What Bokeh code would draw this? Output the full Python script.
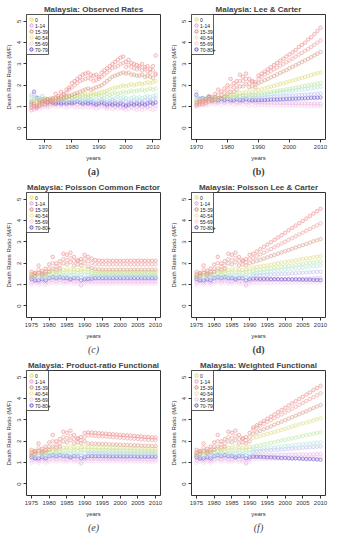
from bokeh.plotting import figure
from bokeh.layouts import gridplot
from bokeh.models import Title, FixedTicker, Range1d
from bokeh.embed import file_html
from bokeh.resources import INLINE
from bokeh.core.properties import value

# ---------------- data ----------------
years_a = list(range(1965, 2012))
years_b = list(range(1970, 2011))
years_cf = list(range(1975, 2011))

xticks_ab = [1970, 1980, 1990, 2000, 2010]
xticks_cf = [1975, 1980, 1985, 1990, 1995, 2000, 2005, 2010]
yticks = [0, 1, 2, 3, 4, 5]

# (a) observed rates 1965-2011
a_s1 = [1.10,1.15,1.05,1.20,1.25,1.30,1.35,1.30,1.40,1.60, 1.50,1.70,1.60,1.80,1.90,2.10,2.20,2.30,2.40,2.50,
        2.55,2.60,2.50,2.45,2.50,2.40,2.60,2.70,2.80,2.90, 3.00,3.10,3.20,3.30,3.35,3.10,3.20,3.05,3.00,2.95,
        2.90,3.00,2.85,2.90,2.75,2.90,3.40]
a_s2 = [1.00,1.05,1.00,1.10,1.15,1.20,1.25,1.30,1.25,1.40, 1.40,1.50,1.55,1.65,1.80,1.90,2.00,2.10,2.20,2.25,
        2.30,2.35,2.30,2.20,2.25,2.30,2.40,2.50,2.60,2.70, 2.80,2.85,2.90,3.00,3.05,2.85,2.95,2.85,2.80,2.75,
        2.80,2.70,2.75,2.65,2.60,2.70,2.55]
a_s3 = [0.95,1.00,0.95,1.05,1.10,1.10,1.15,1.20,1.15,1.25, 1.30,1.35,1.40,1.45,1.50,1.55,1.60,1.65,1.70,1.75,
        1.80,1.85,1.80,1.85,1.90,1.95,2.00,2.10,2.20,2.30, 2.40,2.45,2.50,2.55,2.60,2.55,2.60,2.50,2.50,2.45,
        2.45,2.50,2.40,2.45,2.40,2.35,2.50]
a_s4 = [1.20,1.25,1.20,1.25,1.30,1.30,1.35,1.30,1.35,1.40, 1.35,1.40,1.45,1.40,1.50,1.45,1.50,1.55,1.50,1.55,
        1.60,1.55,1.60,1.65,1.60,1.65,1.70,1.70,1.75,1.80, 1.85,1.90,1.90,1.95,2.00,1.95,2.00,2.05,2.00,2.05,
        2.10,2.05,2.10,2.15,2.10,2.15,2.20]
a_s5 = [1.30,1.35,1.30,1.35,1.30,1.40,1.35,1.40,1.35,1.40, 1.40,1.45,1.40,1.45,1.45,1.40,1.45,1.50,1.45,1.50,
        1.50,1.45,1.50,1.55,1.50,1.55,1.50,1.55,1.60,1.55, 1.60,1.65,1.60,1.65,1.70,1.65,1.70,1.75,1.70,1.75,
        1.75,1.80,1.75,1.80,1.85,1.80,1.85]
a_s6 = [1.45,1.40,1.35,1.40,1.35,1.30,1.35,1.30,1.35,1.30, 1.35,1.30,1.35,1.30,1.35,1.40,1.35,1.40,1.35,1.30,
        1.35,1.40,1.35,1.30,1.35,1.30,1.35,1.40,1.35,1.40, 1.35,1.40,1.45,1.40,1.45,1.40,1.35,1.40,1.45,1.40,
        1.45,1.40,1.45,1.50,1.45,1.50,1.55]
a_s7 = [1.55,1.60,1.45,1.40,1.50,1.35,1.30,1.35,1.30,1.25, 1.30,1.25,1.30,1.25,1.30,1.25,1.30,1.25,1.30,1.25,
        1.30,1.25,1.30,1.25,1.20,1.25,1.30,1.25,1.20,1.25, 1.30,1.25,1.20,1.25,1.30,1.25,1.20,1.25,1.30,1.25,
        1.30,1.25,1.30,1.35,1.30,1.35,1.40]
a_s8 = [1.20,1.70,1.40,1.30,1.35,1.25,1.20,1.25,1.20,1.15, 1.20,1.15,1.20,1.15,1.20,1.15,1.20,1.25,1.20,1.15,
        1.20,1.15,1.20,1.15,1.10,1.15,1.20,1.15,1.10,1.15, 1.10,1.15,1.10,1.15,1.10,1.05,1.10,1.15,1.10,1.15,
        1.10,1.15,1.10,1.15,1.20,1.15,1.20]
a_s9 = [0.85,0.90,0.95,1.00,1.05,1.10,1.05,1.10,1.15,1.10, 1.15,1.10,1.15,1.10,1.15,1.20,1.15,1.10,1.15,1.10,
        1.10,1.15,1.10,1.05,1.10,1.05,1.10,1.05,1.00,1.05, 1.05,1.00,1.05,1.00,0.95,1.00,1.05,1.00,1.05,1.00,
        1.05,1.00,1.05,1.00,1.05,1.10,1.05]
a_s10 = [0.80,0.85,0.90,0.90,0.95,1.00,0.95,1.00,1.05,1.00, 1.00,1.05,1.00,0.95,1.00,1.05,1.00,0.95,1.00,0.95,
         1.00,0.95,1.00,0.95,0.90,0.95,1.00,0.95,0.90,0.95, 0.90,0.95,0.90,0.95,0.90,0.85,0.90,0.95,0.90,0.85,
         0.90,0.85,0.90,0.95,0.90,0.85,0.90]

# (b) Lee & Carter 1970-2010
b_s1 = [1.20,1.25,1.30,1.35,1.50,1.45,1.60,1.80,1.70,1.85, 2.00,2.30,2.10,2.20,2.50,2.40,2.55,2.30,2.20,2.15,
        2.45,2.55,2.65,2.75,2.85,2.95,3.05,3.15,3.25,3.35, 3.45,3.55,3.65,3.80,3.90,4.00,4.15,4.25,4.40,4.55,4.70]
b_s2 = [1.10,1.15,1.20,1.25,1.35,1.35,1.45,1.55,1.55,1.65, 1.80,1.95,1.90,2.00,2.20,2.20,2.30,2.10,2.15,2.05,
        2.30,2.40,2.50,2.58,2.66,2.75,2.83,2.92,3.00,3.08, 3.17,3.25,3.35,3.44,3.52,3.62,3.70,3.80,3.90,4.00,4.10]
b_s3 = [1.05,1.10,1.10,1.15,1.25,1.25,1.30,1.40,1.40,1.45, 1.60,1.70,1.70,1.80,1.95,1.95,2.05,1.90,1.95,1.90,
        2.10,2.17,2.24,2.30,2.37,2.44,2.51,2.58,2.65,2.72, 2.80,2.87,2.94,3.02,3.09,3.17,3.24,3.32,3.40,3.48,3.56]
b_s4 = [1.20,1.20,1.25,1.25,1.30,1.30,1.35,1.40,1.40,1.45, 1.50,1.55,1.55,1.60,1.65,1.65,1.70,1.65,1.70,1.70,
        1.78,1.82,1.86,1.90,1.94,1.98,2.02,2.06,2.10,2.14, 2.18,2.22,2.26,2.31,2.35,2.39,2.43,2.48,2.52,2.56,2.60]
b_s5 = [1.30,1.30,1.35,1.30,1.35,1.40,1.35,1.40,1.40,1.45, 1.45,1.50,1.45,1.50,1.50,1.55,1.50,1.55,1.55,1.55,
        1.60,1.62,1.64,1.67,1.69,1.72,1.74,1.77,1.79,1.82, 1.84,1.87,1.89,1.92,1.95,1.97,2.00,2.03,2.05,2.08,2.11]
b_s6 = [1.35,1.30,1.35,1.40,1.35,1.40,1.40,1.35,1.40,1.45, 1.40,1.45,1.45,1.50,1.45,1.50,1.50,1.45,1.50,1.50,
        1.52,1.54,1.56,1.58,1.60,1.62,1.64,1.66,1.68,1.70, 1.72,1.74,1.76,1.78,1.80,1.82,1.84,1.86,1.88,1.90,1.93]
b_s7 = [1.45,1.40,1.40,1.35,1.40,1.35,1.40,1.35,1.40,1.35, 1.40,1.35,1.40,1.40,1.35,1.40,1.40,1.35,1.40,1.40,
        1.41,1.42,1.43,1.44,1.45,1.46,1.47,1.48,1.49,1.50, 1.51,1.52,1.53,1.54,1.55,1.56,1.57,1.58,1.59,1.60,1.62]
b_s8 = [1.55,1.35,1.40,1.35,1.45,1.30,1.35,1.30,1.35,1.30, 1.35,1.30,1.30,1.35,1.30,1.30,1.35,1.30,1.30,1.30,
        1.30,1.31,1.31,1.32,1.33,1.33,1.34,1.34,1.35,1.36, 1.36,1.37,1.37,1.38,1.39,1.39,1.40,1.41,1.41,1.42,1.43]
b_s9 = [1.70,1.25,1.20,1.25,1.20,1.25,1.20,1.20,1.25,1.20, 1.25,1.20,1.25,1.20,1.20,1.25,1.20,1.20,1.25,1.20,
        1.20,1.20,1.19,1.19,1.19,1.18,1.18,1.18,1.17,1.17, 1.17,1.17,1.16,1.16,1.16,1.15,1.15,1.15,1.15,1.14,1.14]
b_s10 = [1.00,1.05,1.10,1.05,1.10,1.15,1.10,1.15,1.10,1.15, 1.10,1.15,1.10,1.10,1.15,1.10,1.10,1.05,1.10,1.05,
         1.08,1.08,1.07,1.07,1.07,1.07,1.06,1.06,1.06,1.06, 1.05,1.05,1.05,1.05,1.04,1.04,1.04,1.04,1.03,1.03,1.03]

# fitted years 1975-1990 (c)-(f)
early_s1 = [1.60,1.55,1.90,1.65,1.75,1.95,2.30,2.00,2.10,2.45,2.40,2.50,2.30,2.15,2.20,2.40]
early_s2 = [1.45,1.50,1.70,1.55,1.60,1.75,2.00,1.85,1.90,2.20,2.15,2.25,2.10,2.10,2.05,2.20]
early_s3 = [1.35,1.40,1.55,1.45,1.50,1.60,1.75,1.70,1.75,2.00,1.95,2.05,1.90,1.95,1.90,2.00]
early_s4 = [1.50,1.55,1.55,1.50,1.60,1.60,1.65,1.60,1.65,1.70,1.70,1.75,1.70,1.70,1.70,1.75]
early_s5 = [1.40,1.45,1.45,1.50,1.45,1.50,1.55,1.50,1.55,1.55,1.60,1.55,1.60,1.55,1.60,1.60]
early_s6 = [1.35,1.40,1.35,1.40,1.40,1.35,1.40,1.45,1.40,1.45,1.40,1.45,1.45,1.40,1.45,1.45]
early_s7 = [1.30,1.25,1.35,1.30,1.30,1.35,1.30,1.35,1.30,1.35,1.35,1.30,1.35,1.30,1.35,1.30]
early_s8 = [1.25,1.20,1.20,1.25,1.20,1.30,1.35,1.30,1.35,1.30,1.30,1.25,1.30,1.30,1.20,1.25]
early_s9 = [1.10,1.15,1.10,1.15,1.10,1.15,1.20,1.15,1.20,1.15,1.15,1.20,1.15,1.15,1.00,1.15]
early_s10 = [1.00,1.05,1.00,1.05,1.00,1.05,1.10,1.05,1.10,1.05,1.05,1.10,1.05,1.05,0.95,1.05]

# forecasts 1991-2010
c_t1 = [2.30,2.22,2.15,2.13,2.12,2.12,2.12,2.12,2.12,2.12,2.12,2.12,2.12,2.12,2.12,2.12,2.12,2.12,2.12,2.12]
c_t2 = [2.10,2.02,1.97,1.95,1.95,1.95,1.95,1.95,1.95,1.95,1.95,1.95,1.95,1.95,1.95,1.95,1.95,1.95,1.95,1.95]
c_t3 = [1.85,1.78,1.73,1.71,1.70,1.70,1.70,1.70,1.70,1.70,1.70,1.70,1.70,1.70,1.70,1.70,1.70,1.70,1.70,1.70]
c_t4 = [1.72,1.66,1.62,1.60,1.60,1.60,1.60,1.60,1.60,1.60,1.60,1.60,1.60,1.60,1.60,1.60,1.60,1.60,1.60,1.60]
c_t5 = [1.60,1.55,1.52,1.50,1.50,1.50,1.50,1.50,1.50,1.50,1.50,1.50,1.50,1.50,1.50,1.50,1.50,1.50,1.50,1.50]
c_t6 = [1.46,1.44,1.42,1.42,1.42,1.42,1.42,1.42,1.42,1.42,1.42,1.42,1.42,1.42,1.42,1.42,1.42,1.42,1.42,1.42]
c_t7 = [1.34,1.36,1.37,1.38,1.38,1.38,1.38,1.38,1.38,1.38,1.38,1.38,1.38,1.38,1.38,1.38,1.38,1.38,1.38,1.38]
c_t8 = [1.26,1.28,1.30,1.30,1.30,1.30,1.30,1.30,1.30,1.30,1.30,1.30,1.30,1.30,1.30,1.30,1.30,1.30,1.30,1.30]
c_t9 = [1.16,1.15,1.15,1.15,1.15,1.15,1.15,1.15,1.15,1.15,1.15,1.15,1.15,1.15,1.15,1.15,1.15,1.15,1.15,1.15]
c_t10 = [1.06,1.05,1.05,1.05,1.05,1.05,1.05,1.05,1.05,1.05,1.05,1.05,1.05,1.05,1.05,1.05,1.05,1.05,1.05,1.05]

d_t1 = [2.45,2.55,2.66,2.77,2.88,2.99,3.10,3.21,3.32,3.43,3.55,3.66,3.77,3.88,3.99,4.10,4.22,4.33,4.44,4.56]
d_t2 = [2.25,2.33,2.42,2.50,2.59,2.67,2.76,2.84,2.93,3.01,3.10,3.18,3.27,3.36,3.44,3.53,3.61,3.70,3.78,3.87]
d_t3 = [2.05,2.11,2.16,2.22,2.28,2.34,2.39,2.45,2.51,2.57,2.62,2.68,2.74,2.80,2.85,2.91,2.97,3.03,3.08,3.14]
d_t4 = [1.80,1.83,1.86,1.89,1.91,1.94,1.97,2.00,2.03,2.06,2.08,2.11,2.14,2.17,2.20,2.23,2.25,2.28,2.31,2.34]
d_t5 = [1.65,1.67,1.70,1.72,1.74,1.77,1.79,1.81,1.84,1.86,1.88,1.90,1.93,1.95,1.97,2.00,2.02,2.04,2.07,2.09]
d_t6 = [1.52,1.54,1.56,1.58,1.60,1.62,1.64,1.66,1.68,1.70,1.72,1.74,1.76,1.78,1.80,1.82,1.84,1.86,1.88,1.90]
d_t7 = [1.42,1.43,1.44,1.45,1.46,1.47,1.48,1.49,1.50,1.51,1.52,1.53,1.54,1.55,1.56,1.57,1.58,1.59,1.60,1.61]
d_t8 = [1.28,1.28,1.27,1.27,1.27,1.26,1.26,1.26,1.25,1.25,1.25,1.24,1.24,1.24,1.23,1.23,1.23,1.22,1.22,1.21]
d_t9 = [1.20,1.21,1.21,1.22,1.22,1.23,1.23,1.24,1.24,1.25,1.26,1.26,1.27,1.27,1.28,1.29,1.29,1.30,1.31,1.32]
d_t10 = [1.08,1.08,1.08,1.08,1.08,1.09,1.09,1.09,1.09,1.09,1.09,1.09,1.10,1.10,1.10,1.10,1.10,1.10,1.10,1.10]

e_t1 = [2.42,2.41,2.40,2.38,2.37,2.36,2.34,2.33,2.32,2.30,2.29,2.28,2.27,2.25,2.24,2.23,2.21,2.20,2.19,2.18]
e_t2 = [2.28,2.27,2.26,2.24,2.23,2.22,2.21,2.19,2.18,2.17,2.16,2.14,2.13,2.12,2.11,2.09,2.08,2.07,2.06,2.05]
e_t3 = [1.90,1.89,1.89,1.88,1.87,1.87,1.86,1.85,1.85,1.84,1.83,1.83,1.82,1.81,1.81,1.80,1.79,1.79,1.78,1.78]
e_t4 = [1.72,1.72,1.71,1.71,1.70,1.70,1.69,1.69,1.68,1.68,1.68,1.67,1.67,1.66,1.66,1.65,1.65,1.65,1.64,1.64]
e_t5 = [1.60,1.60,1.60,1.59,1.59,1.59,1.58,1.58,1.58,1.57,1.57,1.57,1.56,1.56,1.56,1.55,1.55,1.55,1.54,1.54]
e_t6 = [1.48,1.48,1.48,1.48,1.47,1.47,1.47,1.47,1.47,1.46,1.46,1.46,1.46,1.46,1.46,1.45,1.45,1.45,1.45,1.45]
e_t7 = [1.40,1.40,1.40,1.40,1.40,1.39,1.39,1.39,1.39,1.39,1.39,1.39,1.39,1.38,1.38,1.38,1.38,1.38,1.38,1.38]
e_t8 = [1.30,1.30,1.30,1.30,1.30,1.30,1.29,1.29,1.29,1.29,1.29,1.29,1.29,1.29,1.28,1.28,1.28,1.28,1.28,1.28]
e_t9 = [1.18,1.18,1.18,1.18,1.17,1.17,1.17,1.17,1.17,1.16,1.16,1.16,1.16,1.16,1.16,1.15,1.15,1.15,1.15,1.15]
e_t10 = [1.08,1.08,1.08,1.08,1.07,1.07,1.07,1.07,1.07,1.06,1.06,1.06,1.06,1.06,1.06,1.05,1.05,1.05,1.05,1.05]

f_t1 = [2.65,2.75,2.85,2.96,3.06,3.16,3.26,3.37,3.47,3.57,3.68,3.78,3.88,3.99,4.09,4.19,4.29,4.40,4.50,4.60]
f_t2 = [2.55,2.64,2.73,2.82,2.91,2.99,3.08,3.17,3.26,3.35,3.44,3.53,3.62,3.71,3.80,3.89,3.98,4.07,4.16,4.25]
f_t3 = [2.35,2.42,2.49,2.56,2.63,2.70,2.78,2.85,2.92,2.99,3.06,3.13,3.20,3.27,3.34,3.41,3.49,3.56,3.63,3.70]
f_t4 = [2.15,2.20,2.25,2.30,2.35,2.39,2.44,2.49,2.54,2.59,2.64,2.69,2.74,2.79,2.84,2.88,2.93,2.98,3.03,3.08]
f_t5 = [1.75,1.79,1.82,1.86,1.89,1.93,1.96,2.00,2.04,2.07,2.11,2.14,2.18,2.22,2.25,2.29,2.32,2.36,2.39,2.43]
f_t6 = [1.62,1.64,1.65,1.67,1.69,1.71,1.72,1.74,1.76,1.78,1.79,1.81,1.83,1.85,1.86,1.88,1.90,1.92,1.93,1.95]
f_t7 = [1.52,1.53,1.55,1.56,1.57,1.58,1.60,1.61,1.62,1.63,1.65,1.66,1.67,1.68,1.70,1.71,1.72,1.73,1.75,1.76]
f_t8 = [1.28,1.27,1.27,1.26,1.25,1.25,1.24,1.23,1.22,1.22,1.21,1.20,1.20,1.19,1.18,1.17,1.17,1.16,1.15,1.14]
f_t9 = [1.35,1.35,1.35,1.36,1.36,1.36,1.37,1.37,1.37,1.37,1.38,1.38,1.38,1.38,1.39,1.39,1.39,1.39,1.40,1.40]
f_t10 = [1.15,1.16,1.16,1.17,1.17,1.18,1.18,1.19,1.19,1.20,1.20,1.21,1.21,1.22,1.22,1.23,1.23,1.24,1.24,1.25]

legend_ab = ["0", "1-14", "15-39", "40-54", "55-69", "70-79"]
legend_plus = ["0", "1-14", "15-39", "40-54", "55-69", "70-80+"]

# ---------------- styles ----------------
series_colors = ["#EC8080", "#F09C9C", "#D49A84", "#DCDA80", "#BEE4A2",
                 "#B0E6E0", "#BCBCF2", "#6252CC", "#EAB0E6", "#F4CCEE"]
legend_colors = ["#D8D860", "#E090C8", "#C88468", "#E4E48A", "#F0C8D8", "#5040C8"]

SANS = "Liberation Sans"
SERIF = "Liberation Serif"
FW, FH = 134, 125
YR = (-0.54, 5.32)


def panel(title, ylabel, caption, cap_style, years, series, xr, xticks, labels):
    p = figure(frame_width=FW, frame_height=FH,
               x_range=Range1d(*xr), y_range=Range1d(*YR),
               output_backend="svg", toolbar_location=None,
               min_border_left=26, min_border_right=5,
               min_border_top=14, min_border_bottom=39)
    p.title.text = title
    p.title.text_font = SANS
    p.title.text_font_size = "8px"
    p.title.text_font_style = "bold"
    p.title.align = "center"
    p.title.standoff = 2
    p.add_layout(Title(text=caption, align="center", text_font=SERIF,
                       text_font_size="10px", text_font_style=cap_style,
                       standoff=0), "below")
    p.grid.visible = False
    p.outline_line_color = "#333333"
    p.outline_line_width = 1
    for ax in (p.xaxis[0], p.yaxis[0]):
        ax.axis_line_color = None
        ax.major_tick_out = 3
        ax.major_tick_in = 0
        ax.minor_tick_line_color = None
        ax.major_tick_line_color = "#333333"
        ax.major_label_text_font = SANS
        ax.major_label_text_font_size = "6px"
        ax.major_label_text_color = "#333333"
        ax.major_label_standoff = 2
        ax.axis_label_text_font = SANS
        ax.axis_label_text_font_size = "6px"
        ax.axis_label_text_font_style = "normal"
        ax.axis_label_text_color = "#333333"
        ax.axis_label_standoff = 3
    p.xaxis[0].ticker = FixedTicker(ticks=xticks)
    p.yaxis[0].ticker = FixedTicker(ticks=yticks)
    p.yaxis[0].major_label_orientation = "vertical"
    p.xaxis[0].axis_label = "years"
    p.yaxis[0].axis_label = ylabel

    for i in reversed(range(len(series))):
        p.scatter(years, series[i], marker="circle", size=3.5,
                  line_color=series_colors[i], line_alpha=0.75, line_width=0.7,
                  fill_color=series_colors[i], fill_alpha=0.12)

    # legend box in the top-left corner (sizes in screen px converted to data)
    dx = (xr[1] - xr[0]) / FW
    dy = (YR[1] - YR[0]) / FH
    bw, bh = 22, 40
    p.quad(left=[xr[0]], right=[xr[0] + bw * dx], top=[YR[1]], bottom=[YR[1] - bh * dy],
           fill_color="white", line_color="#333333", line_width=0.8)
    lx = [xr[0] + 5 * dx] * len(labels)
    ly = [YR[1] - (5 + 6 * k) * dy for k in range(len(labels))]
    p.scatter(lx, ly, marker="circle", size=3.4, line_color=legend_colors,
              fill_color=legend_colors, fill_alpha=0.2, line_width=0.8)
    p.text([xr[0] + 8.5 * dx] * len(labels), ly, text=labels,
           text_font=value(SANS), text_font_size="5px", text_color="#222222",
           text_baseline="middle", text_align="left")
    return p


early = [early_s1, early_s2, early_s3, early_s4, early_s5,
         early_s6, early_s7, early_s8, early_s9, early_s10]

sa = [a_s1, a_s2, a_s3, a_s4, a_s5, a_s6, a_s7, a_s8, a_s9, a_s10]
sb = [b_s1, b_s2, b_s3, b_s4, b_s5, b_s6, b_s7, b_s8, b_s9, b_s10]
sc = [e + t for e, t in zip(early, [c_t1, c_t2, c_t3, c_t4, c_t5, c_t6, c_t7, c_t8, c_t9, c_t10])]
sd = [e + t for e, t in zip(early, [d_t1, d_t2, d_t3, d_t4, d_t5, d_t6, d_t7, d_t8, d_t9, d_t10])]
se = [e + t for e, t in zip(early, [e_t1, e_t2, e_t3, e_t4, e_t5, e_t6, e_t7, e_t8, e_t9, e_t10])]
sf = [e + t for e, t in zip(early, [f_t1, f_t2, f_t3, f_t4, f_t5, f_t6, f_t7, f_t8, f_t9, f_t10])]

XR_A = (1963.2, 2012.8)
XR_B = (1968.4, 2011.6)
XR_CF = (1973.6, 2011.4)
YL1 = "Death Rate Ratios (M/F)"
YL2 = "Death Rates Ratio (M/F)"

pa = panel("Malaysia: Observed Rates", YL1, "(a)", "bold", years_a, sa, XR_A, xticks_ab, legend_ab)
pb = panel("Malaysia: Lee & Carter", YL2, "(b)", "bold", years_b, sb, XR_B, xticks_ab, legend_plus)
pc = panel("Malaysia: Poisson Common Factor", YL2, "(c)", "italic", years_cf, sc, XR_CF, xticks_cf, legend_plus)
pd = panel("Malaysia: Poisson Lee & Carter", YL2, "(d)", "bold", years_cf, sd, XR_CF, xticks_cf, legend_plus)
pe = panel("Malaysia: Product-ratio Functional", YL2, "(e)", "italic", years_cf, se, XR_CF, xticks_cf, legend_plus)
pf = panel("Malaysia: Weighted Functional", YL2, "(f)", "italic", years_cf, sf, XR_CF, xticks_cf, legend_ab)

grid = gridplot([[pa, pb], [pc, pd], [pe, pf]], toolbar_location=None)

open("out.html", "w").write(file_html(grid, INLINE))
